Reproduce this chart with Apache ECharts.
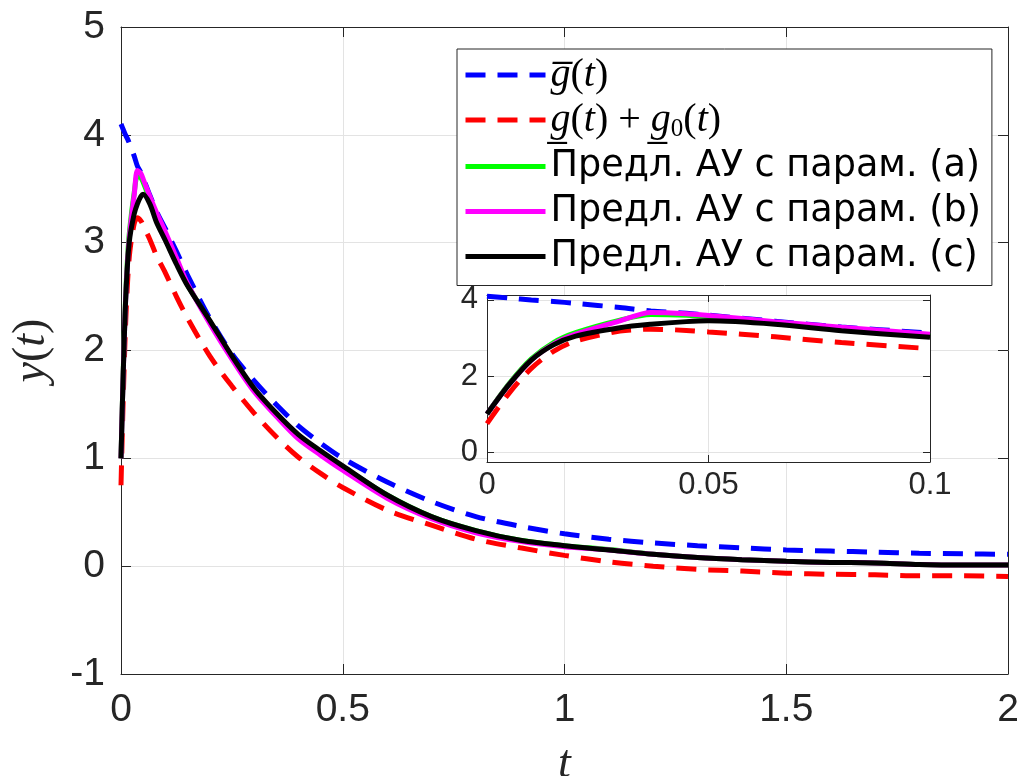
<!DOCTYPE html>
<html>
<head>
<meta charset="utf-8">
<script src="https://cdn.jsdelivr.net/npm/echarts@6/dist/echarts.min.js"></script>
<style>
  html, body { margin: 0; padding: 0; background: #fff; }
  #chart { width: 1021px; height: 776px; }
</style>
</head>
<body>
<div id="chart"></div>
<script>
// time samples (denser near the start, where the curves rise)
const tVals = [0, 0.005, 0.01, 0.015, 0.02, 0.03, 0.037, 0.045, 0.05, 0.065, 0.08, 0.1,
  0.125, 0.15, 0.2, 0.25, 0.3, 0.35, 0.4, 0.45, 0.5, 0.6, 0.7, 0.8, 0.9, 1.0,
  1.1, 1.2, 1.3, 1.4, 1.5, 1.6, 1.7, 1.8, 1.9, 2.0]

// upper bound g(t) (blue dashed)
const gUpper = [4.10, 4.05, 4.00, 3.96, 3.91, 3.80, 3.71, 3.65, 3.60, 3.44, 3.29, 3.13,
  2.92, 2.70, 2.30, 1.97, 1.72, 1.50, 1.30, 1.14, 1.00, 0.78, 0.60, 0.46, 0.37, 0.30,
  0.25, 0.215, 0.19, 0.17, 0.15, 0.14, 0.13, 0.12, 0.115, 0.11]

// lower bound g(t) + g0(t) (red dashed)
const gLower = [0.75, 1.55, 2.20, 2.65, 2.92, 3.18, 3.23, 3.20, 3.16, 3.03, 2.88, 2.72,
  2.50, 2.30, 1.95, 1.67, 1.42, 1.20, 1.01, 0.86, 0.73, 0.52, 0.38, 0.25, 0.17, 0.10,
  0.04, 0.00, -0.03, -0.045, -0.065, -0.075, -0.08, -0.09, -0.09, -0.095]

// params (a) green
const yA = [1.00, 1.80, 2.45, 2.88, 3.14, 3.47, 3.62, 3.60, 3.56, 3.40, 3.24, 3.06,
  2.83, 2.61, 2.27, 1.94, 1.64, 1.41, 1.20, 1.05, 0.92, 0.66, 0.46, 0.33, 0.24, 0.19,
  0.155, 0.11, 0.08, 0.06, 0.045, 0.035, 0.03, 0.015, 0.01, 0.01]

// params (b) magenta
const yB = [1.00, 1.78, 2.42, 2.84, 3.10, 3.45, 3.67, 3.64, 3.59, 3.43, 3.28, 3.10,
  2.86, 2.62, 2.25, 1.92, 1.62, 1.39, 1.18, 1.03, 0.89, 0.63, 0.44, 0.31, 0.23, 0.18,
  0.15, 0.11, 0.08, 0.06, 0.045, 0.035, 0.03, 0.015, 0.01, 0.01]

// params (c) black
const yC = [1.00, 1.78, 2.42, 2.82, 3.05, 3.27, 3.36, 3.43, 3.45, 3.36, 3.19, 3.02,
  2.80, 2.60, 2.28, 1.95, 1.65, 1.42, 1.22, 1.07, 0.93, 0.66, 0.46, 0.33, 0.24, 0.19,
  0.15, 0.11, 0.08, 0.06, 0.045, 0.035, 0.03, 0.015, 0.01, 0.01]

const seriesNames = ['g\u0305(t)', 'g\u0332(t) + g\u0332\u2080(t)',
  'Предл. АУ с парам. (a)', 'Предл. АУ с парам. (b)', 'Предл. АУ с парам. (c)']
const seriesColors = ['#0000ff', '#ff0000', '#00ff00', '#ff00ff', '#000000']
const seriesDashed = [true, true, false, false, false]
const seriesData = [gUpper, gLower, yA, yB, yC]

const insetMaxT = 0.1
const insetYTicks = [0, 2, 4]

const axisColor = '#262626'
const gridColor = '#e3e3e3'

// legend labels for the two math entries
const legendRich = {}
legendRich[seriesNames[0]] = '{mi|g\u0305}{mr|(}{mi|t}{mr|)}'
legendRich[seriesNames[1]] = '{mi|g\u0332}{mr|(}{mi|t}{mr|) + }{mi|g\u0332}{ms|0}{mr|(}{mi|t}{mr|)}'

function makeSeries (i, inset) {
  const pts = []
  tVals.forEach((t, k) => {
    if (!inset || t <= insetMaxT + 1e-9) pts.push([t, seriesData[i][k]])
  })
  return {
    name: seriesNames[i],
    type: 'line',
    xAxisIndex: inset ? 2 : 0,
    yAxisIndex: inset ? 2 : 0,
    data: pts,
    symbol: 'none',
    smooth: 0.3,
    silent: true,
    z: (inset ? 20 : 2) + i,
    lineStyle: { color: seriesColors[i], width: 5, type: seriesDashed[i] ? [20, 12] : 'solid' },
    itemStyle: { color: seriesColors[i] }
  }
}

function boxAxis (gridIndex, position, min, max, interval, tickLen) {
  const ax = {
    type: 'value',
    gridIndex: gridIndex,
    position: position,
    min: min,
    max: max,
    axisLine: { show: true, onZero: false, lineStyle: { color: axisColor, width: 1 } },
    axisTick: { show: true, inside: true, length: tickLen, lineStyle: { color: axisColor } },
    axisLabel: { show: false },
    splitLine: { show: false }
  }
  if (interval) ax.interval = interval
  return ax
}

const chart = echarts.init(document.getElementById('chart'))

const series = []
for (let i = 0; i < 5; i++) series.push(makeSeries(i, false))
for (let i = 0; i < 5; i++) series.push(makeSeries(i, true))

const mainX = boxAxis(0, 'bottom', 0, 2, 0.5, 10)
mainX.axisLabel = { show: true, fontFamily: 'Liberation Sans', fontSize: 39, color: axisColor, margin: 17 }
mainX.splitLine = { show: true, lineStyle: { color: gridColor, width: 1 } }
mainX.name = '{i|t}'
mainX.nameLocation = 'middle'
mainX.nameGap = 68
mainX.nameTextStyle = { rich: { i: { fontFamily: 'Liberation Serif', fontStyle: 'italic', fontSize: 46, color: axisColor } } }

const mainY = boxAxis(0, 'left', -1, 5, 1, 10)
mainY.axisLabel = { show: true, fontFamily: 'Liberation Sans', fontSize: 39, color: axisColor, margin: 16 }
mainY.splitLine = { show: true, lineStyle: { color: gridColor, width: 1 } }
mainY.name = '{i|y}{n|(}{i|t}{n|)}'
mainY.nameLocation = 'middle'
mainY.nameGap = 66
mainY.nameRotate = 90
mainY.nameTextStyle = {
  rich: {
    i: { fontFamily: 'Liberation Serif', fontStyle: 'italic', fontSize: 46, color: axisColor },
    n: { fontFamily: 'Liberation Serif', fontSize: 46, color: axisColor }
  }
}

const insetX = boxAxis(1, 'bottom', 0, insetMaxT, 0.05, 7)
insetX.z = 10
insetX.axisLabel = { show: true, fontFamily: 'Liberation Sans', fontSize: 31, color: axisColor, margin: 8 }
insetX.splitLine = { show: true, lineStyle: { color: gridColor, width: 1 } }

const insetY = boxAxis(1, 'left', -0.26, 4.13, null, 7)
insetY.z = 10
insetY.axisTick.customValues = insetYTicks
insetY.axisLabel = { show: true, fontFamily: 'Liberation Sans', fontSize: 31, color: axisColor, margin: 9, customValues: insetYTicks }
insetY.splitLine = { show: true, lineStyle: { color: gridColor, width: 1 } }

const insetXTop = boxAxis(1, 'top', 0, insetMaxT, 0.05, 7)
insetXTop.z = 10
const insetYRight = boxAxis(1, 'right', -0.26, 4.13, null, 7)
insetYRight.z = 10
insetYRight.axisTick.customValues = insetYTicks

const option = {
  animation: false,
  backgroundColor: '#fff',
  grid: [
    { left: 121, top: 27, right: 13, bottom: 102, outerBoundsMode: 'none' },
    { left: 487, top: 295, width: 443, height: 167, outerBoundsMode: 'none', show: true, backgroundColor: '#fff', borderWidth: 0, z: 8 }
  ],
  legend: {
    data: seriesNames,
    orient: 'vertical',
    left: 457,
    top: 49,
    padding: [6, 11, 9, 6],
    itemWidth: 80,
    itemHeight: 2,
    itemGap: 5,
    backgroundColor: '#fff',
    borderColor: axisColor,
    borderWidth: 1,
    borderRadius: 0,
    selectedMode: false,
    lineStyle: { width: 5 },
    itemStyle: { opacity: 0 },
    formatter: name => legendRich[name] || name,
    textStyle: {
      fontFamily: 'DejaVu Sans',
      fontSize: 36.6,
      color: '#000',
      lineHeight: 40,
      rich: {
        mi: { fontFamily: 'Liberation Serif, DejaVu Serif', fontStyle: 'italic', fontSize: 40, color: '#000' },
        mr: { fontFamily: 'Liberation Serif, DejaVu Serif', fontSize: 40, color: '#000' },
        ms: { fontFamily: 'Liberation Serif, DejaVu Serif', fontSize: 25, color: '#000', padding: [18, 0, 0, 0] }
      }
    }
  },
  xAxis: [mainX, boxAxis(0, 'top', 0, 2, 0.5, 10), insetX, insetXTop],
  yAxis: [mainY, boxAxis(0, 'right', -1, 5, 1, 10), insetY, insetYRight],
  series: series
}

chart.setOption(option)
</script>
</body>
</html>
